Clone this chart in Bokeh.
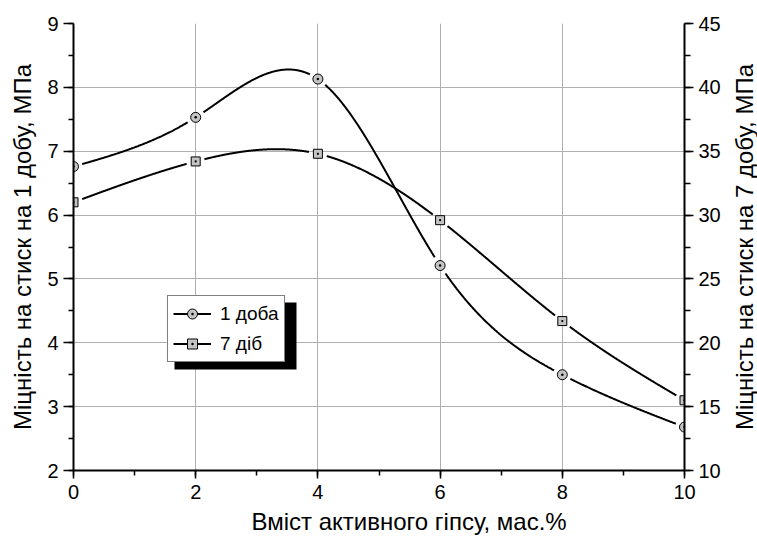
import numpy as np
from bokeh.plotting import figure
from bokeh.layouts import row
from bokeh.models import (Range1d, LinearAxis, SingleIntervalTicker, FixedTicker,
                          Legend, LegendItem, BoxAnnotation, Title)
from bokeh.embed import file_html
from bokeh.resources import INLINE

# ---- data ----
gypsum = [0, 2, 4, 6, 8, 10]
strength_1day = [6.76, 7.53, 8.13, 5.21, 3.50, 2.68]
strength_7days = [31.0, 34.2, 34.8, 29.6, 21.7, 15.5]
label_1day = "1 доба"
label_7days = "7 діб"
x_title = "Вміст активного гіпсу, мас.%"
y_title_left = "Міцність на стиск на 1 добу, МПа"
y_title_right = "Міцність на стиск на 7 добу, МПа"

# ---- layout constants ----
W_SIDE = 30                     # narrow strip holding the right-hand title
W, H = 757 - W_SIDE, 543
BL, BR, BT, BB = 73, 43, 23, 73
FW, FH = W - BL - BR, H - BT - BB
XR = (0, 10)
YL = (2, 9)
YR = (10, 45)
FONT = "Liberation Sans"
sxu = FW / (XR[1] - XR[0])
syu = FH / (YL[1] - YL[0])


def natural_spline(xs, ys, xq):
    xs = np.asarray(xs, float)
    ys = np.asarray(ys, float)
    n = len(xs)
    h = np.diff(xs)
    A = np.zeros((n, n))
    r = np.zeros(n)
    A[0, 0] = 1.0
    A[-1, -1] = 1.0
    for i in range(1, n - 1):
        A[i, i - 1] = h[i - 1]
        A[i, i] = 2 * (h[i - 1] + h[i])
        A[i, i + 1] = h[i]
        r[i] = 3 * ((ys[i + 1] - ys[i]) / h[i] - (ys[i] - ys[i - 1]) / h[i - 1])
    c = np.linalg.solve(A, r)
    b = (ys[1:] - ys[:-1]) / h - h * (2 * c[:-1] + c[1:]) / 3
    d = (c[1:] - c[:-1]) / (3 * h)
    idx = np.clip(np.searchsorted(xs, xq, side="right") - 1, 0, n - 2)
    dx = xq - xs[idx]
    return ys[idx] + b[idx] * dx + c[idx] * dx ** 2 + d[idx] * dx ** 3


def gapped_curve(xs, ys, yrange, gap=9.0):
    xq = np.linspace(xs[0], xs[-1], 1200)
    yq = natural_spline(xs, ys, xq)
    sy = FH / (yrange[1] - yrange[0])
    mask = np.zeros_like(xq, dtype=bool)
    for xi, yi in zip(xs, ys):
        dist = np.hypot((xq - xi) * sxu, (yq - yi) * sy)
        mask |= dist < gap
    yq = yq.copy()
    yq[mask] = np.nan
    return xq, yq


p = figure(width=W, height=H, x_range=Range1d(*XR), y_range=Range1d(*YL),
           output_backend="svg", toolbar_location=None,
           min_border_left=BL, min_border_right=BR,
           min_border_top=BT, min_border_bottom=BB)
p.extra_y_ranges = {"r": Range1d(*YR)}
p.outline_line_color = None
p.background_fill_color = "white"
p.border_fill_color = "white"

# axes
xax = p.xaxis[0]
lax = p.yaxis[0]
xax.ticker = SingleIntervalTicker(interval=2, num_minor_ticks=2)
lax.ticker = SingleIntervalTicker(interval=1, num_minor_ticks=2)
raxis = LinearAxis(y_range_name="r",
                   ticker=SingleIntervalTicker(interval=5, num_minor_ticks=2))
p.add_layout(raxis, "right")

lax.axis_label = y_title_left

for ax in [xax, lax, raxis]:
    ax.axis_line_width = 2
    ax.axis_line_color = "black"
    ax.major_tick_line_width = 1.5
    ax.minor_tick_line_width = 1.5
    ax.major_tick_line_color = "black"
    ax.minor_tick_line_color = "black"
    ax.major_tick_in = 0
    ax.minor_tick_in = 0
    ax.major_label_text_font = FONT
    ax.major_label_text_font_size = "20px"
    ax.major_label_text_color = "black"
    ax.axis_label_text_font = FONT
    ax.axis_label_text_font_size = "24px"
    ax.axis_label_text_font_style = "normal"
    ax.axis_label_text_color = "black"

xax.major_tick_out = 8
xax.minor_tick_out = 5
xax.major_label_standoff = 6
lax.major_tick_out = 10
lax.minor_tick_out = 5
lax.major_label_standoff = 5
lax.axis_label_standoff = 8
raxis.major_tick_out = 9
raxis.minor_tick_out = 6
raxis.major_label_standoff = 5

# bottom title (off-centre in the reference)
xtitle = Title(text=x_title, align="left", offset=178, standoff=8,
               vertical_align="bottom", text_font=FONT, text_font_size="24px",
               text_font_style="normal", text_color="black")
p.add_layout(xtitle, "below")

# grid
p.xgrid.ticker = FixedTicker(ticks=[2, 4, 6, 8])
p.ygrid.ticker = FixedTicker(ticks=[3, 4, 5, 6, 7, 8])
for g in [p.xgrid[0], p.ygrid[0]]:
    g.grid_line_color = "#b0b0b0"
    g.grid_line_width = 1

MFILL = "#c4c4c4"

# white halos (drawn beneath the grid; they only show as gaps in the legend)
h1 = p.scatter(gypsum, strength_1day, marker="circle", size=16,
               fill_color="white", line_color=None, level="image")
h7 = p.scatter(gypsum, strength_7days, marker="square", size=15,
               fill_color="white", line_color=None, level="image",
               y_range_name="r")

# curves
x1, y1 = gapped_curve(gypsum, strength_1day, YL)
x7, y7 = gapped_curve(gypsum, strength_7days, YR)
l1 = p.line(x1, y1, line_color="black", line_width=2)
l7 = p.line(x7, y7, line_color="black", line_width=2, y_range_name="r")

m1 = p.scatter(gypsum, strength_1day, marker="circle_dot", size=10,
               fill_color=MFILL, line_color="black", line_width=1)
m7 = p.scatter(gypsum, strength_7days, marker="square_dot", size=9,
               fill_color=MFILL, line_color="black", line_width=1,
               y_range_name="r")

LEG_X, LEG_Y = 94, 108          # pixels from frame left / bottom
LEG_W, LEG_H = 122, 67
SH = 7
shadow = BoxAnnotation(left=XR[0] + (LEG_X + SH) / sxu,
                       right=XR[0] + (LEG_X + LEG_W + SH) / sxu,
                       bottom=YL[0] + (LEG_Y - SH) / syu,
                       top=YL[0] + (LEG_Y + LEG_H - SH) / syu,
                       fill_color="black", fill_alpha=1.0, line_color=None)
p.add_layout(shadow)

legend = Legend(items=[LegendItem(label=label_1day, renderers=[l1, h1, m1]),
                       LegendItem(label=label_7days, renderers=[l7, h7, m7])],
                location=(LEG_X, LEG_Y))
legend.label_text_font = FONT
legend.label_text_font_size = "19px"
legend.label_text_color = "black"
legend.glyph_width = 38
legend.glyph_height = 25
legend.label_height = 25
legend.label_standoff = 9
legend.padding = 5
legend.spacing = 5
legend.margin = 0
legend.border_line_color = "black"
legend.border_line_width = 1
legend.background_fill_color = "white"
legend.background_fill_alpha = 1.0
p.add_layout(legend)

# narrow strip: its left-axis title reads bottom-to-top like the reference
p2 = figure(width=W_SIDE, height=H, x_range=Range1d(0, 1), y_range=Range1d(*YR),
            x_axis_location=None, y_axis_location=None,
            output_backend="svg", toolbar_location=None,
            min_border_left=W_SIDE - 1, min_border_right=0,
            min_border_top=BT, min_border_bottom=BB)
p2.outline_line_color = None
p2.background_fill_color = "white"
p2.border_fill_color = "white"
p2.grid.visible = False
side_axis = LinearAxis(ticker=FixedTicker(ticks=[]), axis_label=y_title_right)
side_axis.axis_line_color = None
side_axis.major_tick_line_color = None
side_axis.minor_tick_line_color = None
side_axis.major_tick_out = 0
side_axis.minor_tick_out = 0
side_axis.major_label_standoff = 0
side_axis.axis_label_standoff = 0
side_axis.axis_label_text_font = FONT
side_axis.axis_label_text_font_size = "24px"
side_axis.axis_label_text_font_style = "normal"
side_axis.axis_label_text_color = "black"
p2.add_layout(side_axis, "left")

layout = row(p, p2)
open("out.html", "w").write(file_html(layout, INLINE))
